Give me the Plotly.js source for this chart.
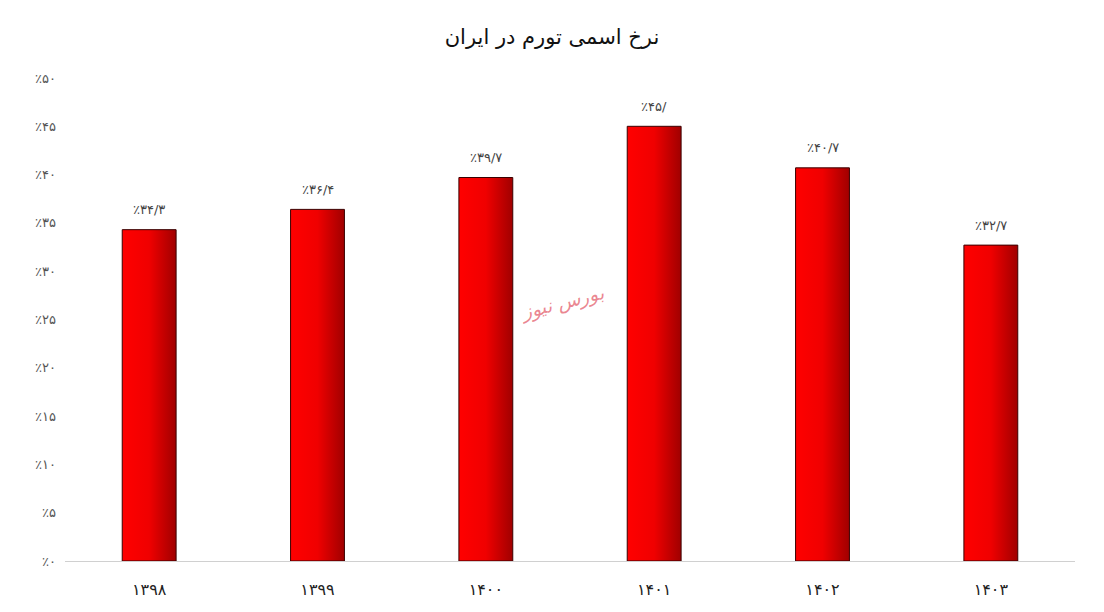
<!DOCTYPE html>
<html>
<head>
<meta charset="utf-8">
<script src="https://cdn.plot.ly/plotly-3.0.1.min.js"></script>
<style>
html,body{margin:0;padding:0;background:#fff;}
#chart{width:1104px;height:612px;}
</style>
</head>
<body>
<div id="chart"></div>
<script>
const categories = ['۱۳۹۸', '۱۳۹۹', '۱۴۰۰', '۱۴۰۱', '۱۴۰۲', '۱۴۰۳'];
const values = [34.3, 36.4, 39.7, 45, 40.7, 32.7];
const valueLabels = ['٪۳۴/۳', '٪۳۶/۴', '٪۳۹/۷', '٪۴۵/', '٪۴۰/۷', '٪۳۲/۷'];
const yTickVals = [0, 5, 10, 15, 20, 25, 30, 35, 40, 45, 50];
const yTickText = ['٪۰', '٪۵', '٪۱۰', '٪۱۵', '٪۲۰', '٪۲۵', '٪۳۰', '٪۳۵', '٪۴۰', '٪۴۵', '٪۵۰'];

const trace = {
  type: 'bar',
  x: categories,
  y: values,
  width: 0.32,
  marker: {color: '#e00000', line: {color: '#3a0000', width: 1}},
  hoverinfo: 'none'
};

const annotations = categories.map((c, i) => ({
  x: c, y: values[i], xref: 'x', yref: 'y',
  text: valueLabels[i], showarrow: false, yshift: 20,
  font: {family: 'DejaVu Sans', size: 13, color: '#444'}
}));
annotations.push({
  xref: 'paper', yref: 'paper', x: 0.4925, y: 0.535,
  text: 'بورس نیوز', showarrow: false, textangle: -14,
  font: {family: 'DejaVu Serif', size: 19, color: 'rgba(228,95,110,0.75)', style: 'italic'}
});

const layout = {
  width: 1104, height: 612,
  margin: {l: 65, r: 29, t: 78, b: 51},
  paper_bgcolor: '#fff', plot_bgcolor: '#fff',
  title: {text: 'نرخ اسمی تورم در ایران', x: 0.5, y: 0.94, yanchor: 'middle',
          font: {family: 'DejaVu Sans', size: 21, color: '#111'}},
  showlegend: false,
  xaxis: {type: 'category', showgrid: false, zeroline: false, showline: true,
          linecolor: '#d0d0d0', linewidth: 1, ticks: '', ticklabelstandoff: 14,
          tickfont: {family: 'DejaVu Sans', size: 16, color: '#222'}},
  yaxis: {range: [0, 50], tickvals: yTickVals, ticktext: yTickText, showgrid: false,
          zeroline: false, showline: false, ticks: '', ticklabelstandoff: 8,
          tickfont: {family: 'DejaVu Sans', size: 13, color: '#555'}},
  annotations: annotations
};

Plotly.newPlot('chart', [trace], layout, {displayModeBar: false, staticPlot: true}).then(gd => {
  const svg = gd.querySelector('svg.main-svg');
  const ns = 'http://www.w3.org/2000/svg';
  let defs = svg.querySelector('defs');
  if (!defs) { defs = document.createElementNS(ns, 'defs'); svg.insertBefore(defs, svg.firstChild); }
  const grad = document.createElementNS(ns, 'linearGradient');
  grad.setAttribute('id', 'barGrad');
  grad.setAttribute('x1', '0'); grad.setAttribute('y1', '0');
  grad.setAttribute('x2', '1'); grad.setAttribute('y2', '0');
  [['0%', '#ff0000'], ['50%', '#f00000'], ['100%', '#a00000']].forEach(([o, c]) => {
    const s = document.createElementNS(ns, 'stop');
    s.setAttribute('offset', o); s.setAttribute('stop-color', c);
    grad.appendChild(s);
  });
  defs.appendChild(grad);
  gd.querySelectorAll('.bars .point path').forEach(p => { p.style.fill = 'url(#barGrad)'; });
});
</script>
</body>
</html>
